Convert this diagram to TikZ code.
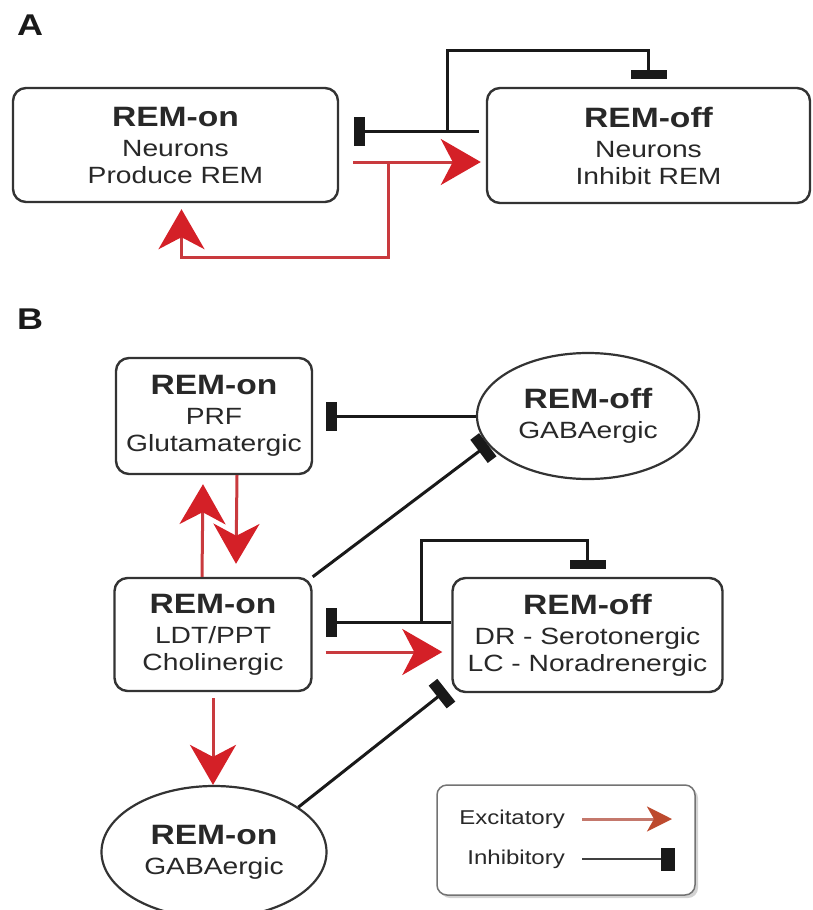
\documentclass[tikz,border=0pt]{standalone}
\usepackage{fontspec}
\setmainfont{Liberation Sans}[FakeStretch=1.2]
\usetikzlibrary{arrows.meta,shapes.geometric,shadows,calc}

\definecolor{exshaft}{RGB}{201,58,62}
\definecolor{extip}{RGB}{212,32,39}
\definecolor{legshaft}{RGB}{196,120,108}
\definecolor{legtip}{RGB}{189,74,46}
\definecolor{txt}{RGB}{40,40,40}

\tikzset{
  cell/.style={draw=black!80, line width=2.4pt, rounded corners=13pt, inner sep=0pt, align=center, text=txt, font=\fontsize{23.5}{27}\selectfont},
  oval/.style={ellipse, draw=black!80, line width=2.2pt, inner sep=0pt, align=center, text=txt, font=\fontsize{23.5}{27}\selectfont},
  excit/.style={draw=exshaft, line width=3pt, -{Stealth[length=40pt,width=46pt,inset=12pt,color=extip]}},
  inhib/.style={draw=black!90, line width=3pt, -{Rectangle[length=11pt,width=29pt]}},
  inhibT/.style={draw=black!90, line width=3pt, -{Rectangle[length=9pt,width=36pt]}},
  panel/.style={font=\fontsize{30}{32}\selectfont\bfseries, text=black!90},
  legtext/.style={anchor=east, inner sep=0pt, text=txt, font=\fontsize{20}{22}\selectfont},
}
\newcommand{\celltitle}[1]{{\fontsize{28}{30}\selectfont\bfseries #1}\\[3pt]}

\begin{document}
\begin{tikzpicture}[x=1pt,y=-1pt]
    \useasboundingbox (0,0) rectangle (812,910);

    % A
    \node[panel] (lblA) at (30,25) {A};
    \node[cell, minimum width=325pt, minimum height=114pt] (onA) at (175.5,145) {\celltitle{REM-on}Neurons\\Produce REM};
    \node[cell, minimum width=323pt, minimum height=115pt] (offA) at (648.5,145.5) {\celltitle{REM-off}Neurons\\Inhibit REM};

    \coordinate (iA) at ([xshift=-7pt,yshift=14pt]offA.west);
    \draw[inhib] (iA) -- ($(iA -| onA.east)+(15,0)$);
    \draw[inhibT] ($(iA)+(-31,0)$) |- ([yshift=36pt]offA.north) -- ([yshift=7.5pt]offA.north);

    \coordinate (eA) at ([xshift=14pt,yshift=-17pt]onA.east);
    \draw[excit] (eA) -- ($(eA -| offA.west)+(-5,0)$);
    \draw[excit] ($(eA)+(35,0)$) |- ([xshift=6pt,yshift=-54pt]onA.south) -- ([xshift=6pt,yshift=-6pt]onA.south);

    % B
    \node[panel] (lblB) at (30,319) {B};
    \node[cell, minimum width=196pt, minimum height=116pt] (onPRF) at (214,416) {\celltitle{REM-on}PRF\\Glutamatergic};
    \node[oval, minimum width=222pt, minimum height=126pt] (offGABA) at (588,416) {\celltitle{REM-off}GABAergic};
    \node[cell, minimum width=197pt, minimum height=113pt] (onLDT) at (213,634.5) {\celltitle{REM-on}LDT/PPT\\Cholinergic};
    \node[cell, minimum width=270pt, minimum height=114pt] (offDR) at (587.5,635) {\celltitle{REM-off}DR - Serotonergic\\LC - Noradrenergic};
    \node[oval, minimum width=225pt, minimum height=132pt] (onGABA) at (214,852) {\celltitle{REM-on}GABAergic};

    \draw[inhib] (offGABA.west) -- ([xshift=13pt]onPRF.east);
    \draw[inhib] (onLDT.north east) -- (offGABA.196);
    \draw[excit] ([xshift=-11pt]onLDT.north) -- ([xshift=-11pt,yshift=-9pt]onPRF.south);
    \draw[excit] ([xshift=23pt]onPRF.south) -- ([xshift=23pt,yshift=13pt]onLDT.north);

    \coordinate (iB) at ([yshift=13pt]offDR.west);
    \draw[inhib] (iB) -- ($(iB -| onLDT.east)+(13,0)$);
    \draw[inhibT] ($(iB)+(-30,0)$) |- ([yshift=36pt]offDR.north) -- ([yshift=7.5pt]offDR.north);

    \coordinate (eB) at ([xshift=13pt,yshift=-17.5pt]onLDT.east);
    \draw[excit] (eB) -- ($(eB -| offDR.west)+(-9,0)$);
    \draw[excit] ([yshift=-6pt]onLDT.south) -- (onLDT.south |- onGABA.north);
    \draw[inhib] (onGABA.28) -- ([xshift=-5pt,yshift=3pt]offDR.south west);

    % legend
    \node[draw=black!55, line width=1.5pt, rounded corners=10pt, fill=white, minimum width=258pt, minimum height=110pt,
          drop shadow={shadow xshift=3pt, shadow yshift=-3pt, opacity=.35}] (legend) at (566,840) {};
    \node[legtext] (lgEx) at (565,819) {Excitatory};
    \node[legtext] (lgIn) at (565,859) {Inhibitory};
    \coordinate (lgExEnd) at (672,819);
    \coordinate (lgInEnd) at (675,859);
    \draw[draw=legshaft, line width=3pt, -{Stealth[length=25pt,width=25pt,inset=7pt,color=legtip]}] ([xshift=17pt]lgEx.east) -- (lgExEnd);
    \draw[draw=black!75, line width=2.5pt, -{Rectangle[length=14pt,width=23pt,color=black!90]}] ([xshift=17pt]lgIn.east) -- (lgInEnd);
\end{tikzpicture}
\end{document}
